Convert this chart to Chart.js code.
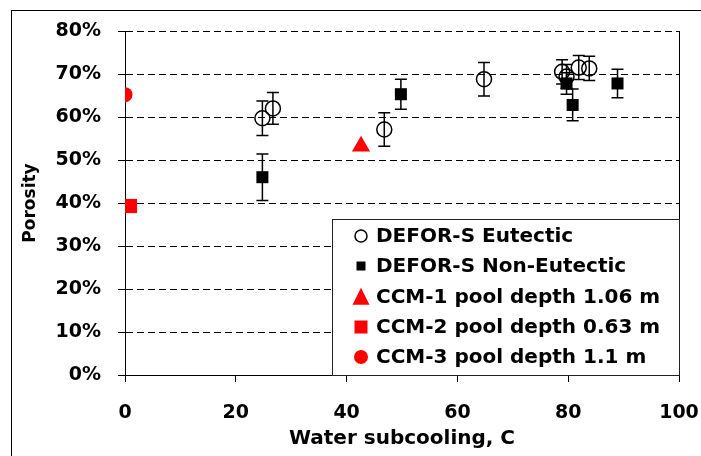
<!DOCTYPE html>
<html>
<head>
<meta charset="utf-8">
<script src="https://cdn.jsdelivr.net/npm/chart.js@4.4.1/dist/chart.umd.min.js"></script>
<style>
  html, body { margin: 0; padding: 0; background: #fff; }
  #frame { position: absolute; left: 11px; top: 10px; width: 760px; height: 520px;
           border-left: 1px solid #000; border-top: 1px solid #000; }
  #wrap { position: absolute; left: 0; top: 0; width: 701px; height: 456px; }
</style>
</head>
<body>
<div id="frame"></div>
<div id="wrap"><canvas id="chart" width="701" height="456"></canvas></div>
<script>
// --- data ---
const eutX   = [24.8, 26.7, 46.8, 64.8, 78.9, 79.7, 81.9, 83.8];
const eutY   = [59.7, 62.0, 57.1, 68.8, 70.5, 69.4, 71.5, 71.3];
const eutErr = [4.0, 3.7, 3.9, 3.9, 2.8, 2.8, 2.8, 2.8];

const nonX   = [24.8, 49.8, 79.7, 80.8, 88.9];
const nonY   = [46.0, 65.3, 67.8, 62.8, 67.8];
const nonErr = [5.4, 3.5, 2.5, 3.7, 3.3];

const ccmLabels = ['CCM-1 pool depth 1.06 m', 'CCM-2 pool depth 0.63 m', 'CCM-3 pool depth 1.1 m'];
const ccmX = [42.6, 0.9, 0.0];
const ccmY = [53.2, 39.3, 65.2];

const yTicks = [0, 10, 20, 30, 40, 50, 60, 70, 80];
const xTicks = [0, 20, 40, 60, 80, 100];

const FONT = 'DejaVu Sans';
const RED = '#ff0000';

const pts = (xs, ys) => xs.map((x, i) => ({ x: x, y: ys[i] }));

// error bars, drawn under the markers
const errorBars = {
  id: 'errorBars',
  beforeDatasetsDraw(chart) {
    const { ctx, scales: { x, y } } = chart;
    ctx.save();
    ctx.strokeStyle = '#000';
    ctx.lineWidth = 1.5;
    chart.data.datasets.forEach(ds => {
      if (!ds.err) return;
      ds.data.forEach((p, i) => {
        const px = x.getPixelForValue(p.x);
        const top = y.getPixelForValue(p.y + ds.err[i]);
        const bot = y.getPixelForValue(p.y - ds.err[i]);
        ctx.beginPath();
        ctx.moveTo(px, top); ctx.lineTo(px, bot);
        ctx.moveTo(px - 6, top); ctx.lineTo(px + 6, top);
        ctx.moveTo(px - 6, bot); ctx.lineTo(px + 6, bot);
        ctx.stroke();
      });
    });
    ctx.restore();
  }
};

function marker(ctx, style, x, y, size, fill, stroke) {
  ctx.beginPath();
  if (style === 'circle') {
    ctx.arc(x, y, size, 0, Math.PI * 2);
  } else if (style === 'rect') {
    ctx.rect(x - size / 2, y - size / 2, size, size);
  } else if (style === 'triangle') {
    ctx.moveTo(x, y - size * 0.55);
    ctx.lineTo(x + size / 2, y + size * 0.45);
    ctx.lineTo(x - size / 2, y + size * 0.45);
    ctx.closePath();
  }
  if (fill) { ctx.fillStyle = fill; ctx.fill(); }
  if (stroke) { ctx.strokeStyle = stroke; ctx.lineWidth = 1.5; ctx.stroke(); }
}

// right border of the plot and the boxed legend inside the plot
const frameAndLegend = {
  id: 'frameAndLegend',
  afterDraw(chart) {
    const { ctx, chartArea: a } = chart;
    ctx.save();
    ctx.strokeStyle = '#000';
    ctx.lineWidth = 1;
    ctx.beginPath();
    ctx.moveTo(a.right + 0.5, a.top);
    ctx.lineTo(a.right + 0.5, a.bottom + 7);
    ctx.stroke();

    const bx = a.left + 207, by = 219;
    ctx.fillStyle = '#fff';
    ctx.fillRect(bx, by, a.right - bx, a.bottom - by);
    ctx.strokeStyle = '#222';
    ctx.strokeRect(bx + 0.5, by + 0.5, a.right - bx, a.bottom - by);

    const rows = [236, 266, 297, 327, 357];
    const looks = [
      ['circle', 6, null, '#000'],
      ['rect', 9, '#000', null],
      ['triangle', 17, RED, null],
      ['rect', 13, RED, null],
      ['circle', 7, RED, null]
    ];
    ctx.font = 'bold 20px "' + FONT + '"';
    ctx.textBaseline = 'middle';
    ctx.textAlign = 'left';
    chart.data.datasets.forEach((ds, i) => {
      const l = looks[i];
      marker(ctx, l[0], bx + 29, rows[i], l[1], l[2], l[3]);
      ctx.fillStyle = '#000';
      ctx.fillText(ds.label, bx + 44, rows[i] + 1);
    });
    ctx.restore();
  }
};

const tickFont = { family: FONT, size: 19, weight: 'bold' };

new Chart(document.getElementById('chart'), {
  type: 'scatter',
  data: {
    datasets: [
      {
        label: 'DEFOR-S Eutectic',
        data: pts(eutX, eutY), err: eutErr,
        pointStyle: 'circle', pointRadius: 7.5, borderWidth: 1.5,
        borderColor: '#000', backgroundColor: 'rgba(0,0,0,0)'
      },
      {
        label: 'DEFOR-S Non-Eutectic',
        data: pts(nonX, nonY), err: nonErr,
        pointStyle: 'rect', pointRadius: 8.5, borderWidth: 0,
        borderColor: '#000', backgroundColor: '#000'
      },
      {
        label: ccmLabels[0],
        data: pts(ccmX.slice(0, 1), ccmY.slice(0, 1)),
        pointStyle: 'triangle', pointRadius: 10.5, borderWidth: 0,
        borderColor: RED, backgroundColor: RED
      },
      {
        label: ccmLabels[1],
        data: pts(ccmX.slice(1, 2), ccmY.slice(1, 2)),
        pointStyle: 'rect', pointRadius: 10, borderWidth: 0,
        borderColor: RED, backgroundColor: RED
      },
      {
        label: ccmLabels[2],
        data: pts(ccmX.slice(2, 3), ccmY.slice(2, 3)),
        pointStyle: 'circle', pointRadius: 7.5, borderWidth: 0,
        borderColor: RED, backgroundColor: RED
      }
    ]
  },
  options: {
    responsive: false,
    animation: false,
    devicePixelRatio: 1,
    layout: { padding: { left: 0, top: 31, right: 22, bottom: 0 } },
    plugins: { legend: { display: false }, tooltip: { enabled: false } },
    scales: {
      x: {
        type: 'linear', min: 0, max: 100,
        afterBuildTicks: s => { s.ticks = xTicks.map(v => ({ value: v })); },
        afterFit: s => { s.height = 81; s.paddingLeft = 0; s.paddingRight = 0; },
        ticks: { font: tickFont, color: '#000', padding: 20 },
        grid: { drawOnChartArea: false, color: '#000', tickLength: 7, lineWidth: 1 },
        border: { color: '#000', width: 1 },
        title: {
          display: true, text: 'Water subcooling, C', color: '#000',
          font: { family: FONT, size: 20, weight: 'bold' },
          padding: { top: 0, bottom: 5 }
        }
      },
      y: {
        type: 'linear', min: 0, max: 80,
        afterBuildTicks: s => { s.ticks = yTicks.map(v => ({ value: v })); },
        afterFit: s => { s.width = 125; s.paddingTop = 0; s.paddingBottom = 0; },
        ticks: { font: tickFont, color: '#000', padding: 17, callback: v => v + '%' },
        grid: { color: '#000', tickLength: 7, lineWidth: 1 },
        border: { color: '#000', width: 1, dash: [7, 4] },
        title: {
          display: true, text: 'Porosity', color: '#000',
          font: { family: FONT, size: 17, weight: 'bold' },
          padding: { top: 20, bottom: 0 }
        }
      }
    }
  },
  plugins: [errorBars, frameAndLegend]
});
</script>
</body>
</html>
